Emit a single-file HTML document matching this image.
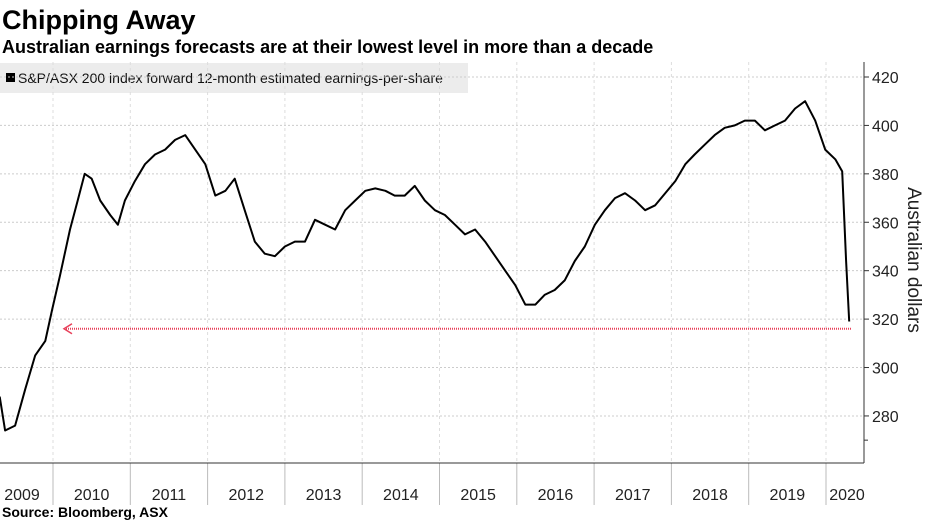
<!DOCTYPE html>
<html><head><meta charset="utf-8">
<style>
body{margin:0;background:#fff;width:930px;height:523px;overflow:hidden;font-family:"Liberation Sans",sans-serif}
svg{position:absolute;left:0;top:0}
</style></head>
<body>
<svg id="c" width="930" height="523">
<text x="2" y="29" font-size="27" font-weight="bold" fill="#000">Chipping Away</text>
<text x="2" y="53" font-size="18" font-weight="bold" fill="#000">Australian earnings forecasts are at their lowest level in more than a decade</text>
<rect x="0" y="63" width="468" height="30" fill="#ececec"/>
<rect x="6" y="73" width="9" height="9" fill="#000"/>
<text x="18" y="83" font-size="14" fill="#111">S&amp;P/ASX 200 index forward 12-month estimated earnings-per-share</text>
<text transform="translate(908,260) rotate(90)" font-size="19" fill="#222" text-anchor="middle">Australian dollars</text>
<text x="2" y="517" font-size="14" font-weight="bold" fill="#000">Source: Bloomberg, ASX</text>
<g id="g"></g>
</svg>
<script>
const years=[2009,2010,2011,2012,2013,2014,2015,2016,2017,2018,2019,2020];
const yTicks=[280,300,320,340,360,380,400,420];
const dates=[2009.31,2009.38,2009.51,2009.64,2009.77,2009.90,2009.99,2010.09,2010.22,2010.32,2010.41,2010.50,2010.61,2010.74,2010.84,
2010.93,2011.06,2011.19,2011.32,2011.45,2011.58,2011.71,2011.84,2011.97,2012.10,2012.23,2012.35,2012.48,2012.61,2012.74,2012.87,
2013.00,2013.13,2013.26,2013.39,2013.52,2013.65,2013.78,2013.91,2014.04,2014.17,2014.30,2014.42,2014.55,2014.68,2014.81,2014.94,
2015.07,2015.20,2015.33,2015.46,2015.59,2015.72,2015.85,2015.98,2016.11,2016.24,2016.36,2016.49,2016.62,2016.75,2016.88,
2017.01,2017.14,2017.27,2017.40,2017.53,2017.66,2017.79,2017.92,2018.05,2018.18,2018.30,2018.43,2018.56,2018.69,2018.82,2018.95,
2019.08,2019.21,2019.34,2019.47,2019.60,2019.73,2019.86,2019.99,2020.12,2020.21,2020.26,2020.30];
const eps=[288,274,276,291,305,311,324,338,357,369,380,378,369,363,359,
369,377,384,388,390,394,396,390,384,371,373,378,365,352,347,346,
350,352,352,361,359,357,365,369,373,374,373,371,371,375,369,365,
363,359,355,357,352,346,340,334,326,326,330,332,336,344,350,
359,365,370,372,369,365,367,372,377,384,388,392,396,399,400,402,
402,398,400,402,407,410,402,390,386,381,344,319];
const X=t=>53+(t-2010)*77.3, Y=v=>77+(420-v)*2.421;
const g=document.getElementById('g'),NS='http://www.w3.org/2000/svg';
function mk(t,a){const e=document.createElementNS(NS,t);for(const k in a)e.setAttribute(k,a[k]);g.appendChild(e);return e;}
yTicks.forEach(v=>{
 const l=mk('line',{x1:0,x2:864,y1:Y(v),y2:Y(v),stroke:'#ccc','stroke-dasharray':'2,2'});
 
 
 const tk=mk('line',{x1:864,x2:869,y1:Y(v),y2:Y(v),stroke:'#333'});
 
 
 const t=mk('text',{x:872,y:Y(v)+6,'font-size':16,fill:'#222'});t.textContent=v;
 
 
});
const mid=Y(270);const mt=mk('line',{x1:864,x2:868,y1:mid,y2:mid,stroke:'#333'});


years.forEach((yr,i)=>{
 const x0=X(yr), x1=i<years.length-1?X(yr+1):864;
 if(yr>2009){
  const gl=mk('line',{x1:x0,x2:x0,y1:62,y2:463,stroke:'#ddd','stroke-dasharray':'3,3'});
  
  
  const s=mk('line',{x1:x0,x2:x0,y1:463,y2:505,stroke:'#bbb'});
  
  
 }
 const cx=yr===2009?22:(yr===2020?847:(x0+x1)/2);
 const t=mk('text',{x:cx,y:500,'font-size':16,fill:'#222','text-anchor':'middle'});t.textContent=yr;
 
 
});
const ax=mk('line',{x1:0,x2:864,y1:463,y2:463,stroke:'#333'});


const ay=mk('line',{x1:864,x2:864,y1:62,y2:463,stroke:'#333'});


const ry=Y(316);
const ar=mk('line',{x1:66,x2:852,y1:ry,y2:ry,stroke:'#e8405a','stroke-width':2,'stroke-dasharray':'1,1'});


const ah=mk('path',{d:`M72 ${ry-5} L64 ${ry} L72 ${ry+5}`,fill:'none',stroke:'#e8405a','stroke-width':1.5});


const n=Math.min(dates.length,eps.length);
let d='';for(let i=0;i<n;i++)d+=(i?'L':'M')+X(dates[i]).toFixed(1)+' '+Y(eps[i]).toFixed(1);
const p=mk('path',{d,fill:'none',stroke:'#000','stroke-width':2,'stroke-linejoin':'round'});


</script>
</body></html>
